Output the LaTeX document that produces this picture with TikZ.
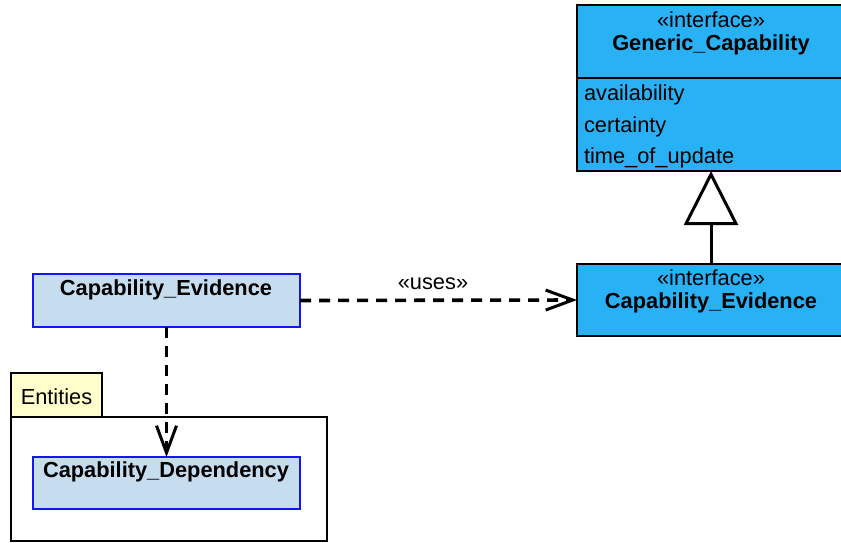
\documentclass[tikz,border=0pt]{standalone}
\usepackage{fontspec}
\setmainfont{Liberation Sans}
\usetikzlibrary{arrows.meta}
\definecolor{ifblue}{RGB}{41,177,246}
\definecolor{clsblue}{RGB}{198,221,240}
\definecolor{clsborder}{RGB}{20,20,245}
\definecolor{tabyellow}{RGB}{255,255,204}
\begin{document}
\begin{tikzpicture}[x=1pt,y=-1pt,
  every node/.style={inner sep=0pt, outer sep=0pt, font=\fontsize{21.8}{26}\selectfont},
  ifbox/.style={draw=black, line width=1.5pt, fill=ifblue, anchor=north west},
  clsbox/.style={draw=clsborder, line width=1.3pt, fill=clsblue, anchor=north west},
  pkgbox/.style={draw=black, line width=1.3pt, fill=white, anchor=north west},
  tabbox/.style={draw=black, line width=1.3pt, fill=tabyellow, anchor=north west},
  bold/.style={font=\fontsize{21.8}{26}\selectfont\bfseries},
  depline/.style={line width=3.6pt, dash pattern=on 11pt off 8pt,
    -{Straight Barb[length=27pt, width=20pt, line width=3pt]}},
  genline/.style={line width=3pt, -{Triangle[open, length=54pt, width=54pt, line width=3pt]}}
]
\useasboundingbox (0,0) rectangle (841,542);

% interface Generic_Capability
\node[ifbox, minimum width=268pt, minimum height=166pt] (gen) at (577,5) {};
\draw[line width=1.5pt] (577,78) -- (845,78);
\node (genst) at (711,20) {«interface»};
\node[bold] (genname) at (711,45) {Generic\_Capability};
\node[anchor=west] (attr1) at (584,95) {availability};
\node[anchor=west] (attr2) at (584,127) {certainty};
\node[anchor=west] (attr3) at (584,158) {time\_of\_update};

% interface Capability_Evidence
\node[ifbox, minimum width=268pt, minimum height=72pt] (cei) at (577,264) {};
\node (ceist) at (711,278) {«interface»};
\node[bold] (ceiname) at (711,303) {Capability\_Evidence};

% class Capability_Evidence
\node[clsbox, minimum width=267pt, minimum height=53pt] (ce) at (33,274) {};
\node[bold] (cename) at (166,290) {Capability\_Evidence};

% package Entities
\node[tabbox, minimum width=91pt, minimum height=44pt] (tab) at (11,373) {};
\node (tabname) at (56.5,397) {Entities};
\node[pkgbox, minimum width=316pt, minimum height=124pt] (pkg) at (11,417) {};

% class Capability_Dependency
\node[clsbox, minimum width=267pt, minimum height=52pt] (cd) at (33,457) {};
\node[bold] (cdname) at (166,472) {Capability\_Dependency};

% relations
\draw[genline] (cei.north) -- (gen.south);
\draw[depline] (ce.east) -- (cei.west);
\node (uses) at (433,284) {«uses»};
\draw[depline] (ce.south) -- (cd.north);
\end{tikzpicture}
\end{document}
